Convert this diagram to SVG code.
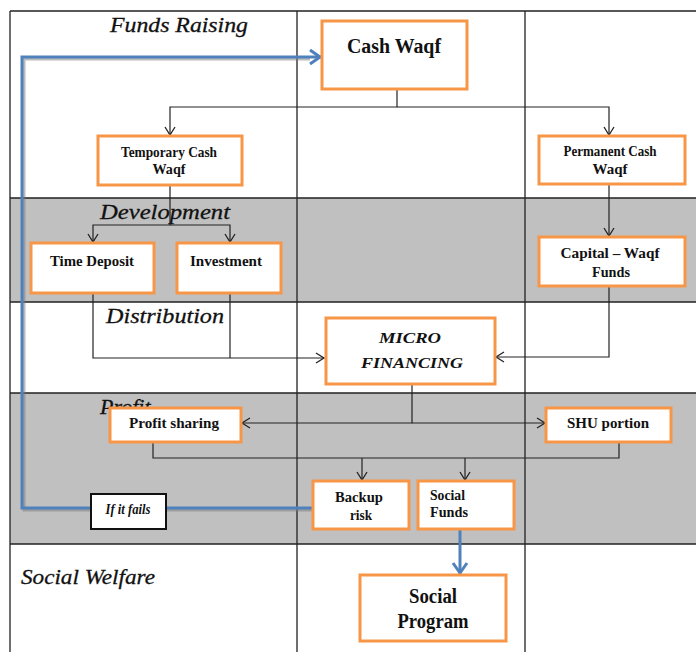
<svg xmlns="http://www.w3.org/2000/svg" width="696" height="652" viewBox="0 0 696 652">
<style>
.grid{stroke:#222;stroke-width:1.3;fill:none}
.band{fill:#c0c0c0}
.node{fill:#fff;stroke:#f79646;stroke-width:3}
text{font-family:'Liberation Serif','Times New Roman','DejaVu Serif',serif}
.sec{font-style:italic;font-size:22px;fill:#111;stroke:#111;stroke-width:0.3}
.t{font-weight:bold;font-size:14.5px;fill:#111;text-anchor:middle}
.big{font-size:20px}
.conn{fill:none;stroke:#222;stroke-width:1.2}
.blue{fill:none;stroke:#4f81bd;stroke-width:3}
.shadow{fill:none;stroke:#777;stroke-width:3;opacity:0.5}
</style>
<defs>
<marker id="ah" viewBox="-10 -7 12 14" refX="0" refY="0" markerWidth="12" markerHeight="14" markerUnits="userSpaceOnUse" orient="auto">
<path d="M-8,-5 L0,0 L-8,5" fill="none" stroke="#222" stroke-width="1.3"/>
</marker>
<marker id="bh" viewBox="-14 -9 16 18" refX="0" refY="0" markerWidth="16" markerHeight="18" markerUnits="userSpaceOnUse" orient="auto">
<path d="M-11,-7 L-1,0 L-11,7" fill="none" stroke="#4f81bd" stroke-width="3"/>
</marker>
</defs>
<rect width="696" height="652" fill="#fff"/>
<g id="grid">
<rect class="band" x="10" y="198" width="686" height="104"/>
<rect class="band" x="10" y="393" width="686" height="151"/>
<path class="grid" d="M10,11 H696 M10,198 H696 M10,302 H696 M10,393 H696 M10,544 H696 M10,11 V652 M297,11 V652 M525,11 V652"/>
</g>
<g id="sections">
<text class="sec" x="110" y="32" textLength="138" lengthAdjust="spacingAndGlyphs">Funds Raising</text>
<text class="sec" x="100" y="219" textLength="130" lengthAdjust="spacingAndGlyphs">Development</text>
<text class="sec" x="106" y="323" textLength="118" lengthAdjust="spacingAndGlyphs">Distribution</text>
<text class="sec" x="100" y="414">Profit</text>
<text class="sec" x="21" y="584" textLength="134" lengthAdjust="spacingAndGlyphs">Social Welfare</text>
</g>
<g id="connectors">
<path class="conn" d="M397,89 V107 H170 V135" marker-end="url(#ah)"/>
<path class="conn" d="M397,107 H609 V135" marker-end="url(#ah)"/>
<path class="conn" d="M170,185 V225 H93 V242" marker-end="url(#ah)"/>
<path class="conn" d="M170,225 H230 V242" marker-end="url(#ah)"/>
<path class="conn" d="M609,184 V236" marker-end="url(#ah)"/>
<path class="conn" d="M609,286 V357 H496" marker-end="url(#ah)"/>
<path class="conn" d="M93,293 V358 H324" marker-end="url(#ah)"/>
<path class="conn" d="M230,293 V358"/>
<path class="conn" d="M412,384 V423 H242" marker-end="url(#ah)"/>
<path class="conn" d="M412,423 H545" marker-end="url(#ah)"/>
<path class="conn" d="M153,442 V458 H619 V442"/>
<path class="conn" d="M362,458 V480" marker-end="url(#ah)"/>
<path class="conn" d="M465,458 V480" marker-end="url(#ah)"/>
<path class="shadow" d="M313,510 H24 V59 H310"/>
<path class="blue" d="M313,508 H22 V57 H321" marker-end="url(#bh)"/>
<path class="blue" d="M460,529 V574" marker-end="url(#bh)"/>
</g>
<g id="cash-waqf">
<rect class="node" x="322" y="21" width="145" height="68"/>
<text class="t big" x="394" y="53" textLength="94" lengthAdjust="spacingAndGlyphs">Cash Waqf</text>
</g>
<g id="temporary-cash-waqf">
<rect class="node" x="98" y="136" width="144" height="49"/>
<text class="t" x="169" y="157" textLength="96" lengthAdjust="spacingAndGlyphs">Temporary Cash</text>
<text class="t" x="169" y="174" textLength="33" lengthAdjust="spacingAndGlyphs">Waqf</text>
</g>
<g id="permanent-cash-waqf">
<rect class="node" x="539" y="136" width="146" height="48"/>
<text class="t" x="610" y="156" textLength="93" lengthAdjust="spacingAndGlyphs">Permanent Cash</text>
<text class="t" x="610" y="174" textLength="35" lengthAdjust="spacingAndGlyphs">Waqf</text>
</g>
<g id="time-deposit">
<rect class="node" x="31" y="243" width="123" height="50"/>
<text class="t" x="92" y="266" textLength="84" lengthAdjust="spacingAndGlyphs">Time Deposit</text>
</g>
<g id="investment">
<rect class="node" x="177" y="243" width="104" height="50"/>
<text class="t" x="226" y="266" textLength="72" lengthAdjust="spacingAndGlyphs">Investment</text>
</g>
<g id="capital-waqf-funds">
<rect class="node" x="539" y="237" width="146" height="49"/>
<text class="t" x="610" y="258" textLength="99" lengthAdjust="spacingAndGlyphs">Capital – Waqf</text>
<text class="t" x="611" y="277" textLength="38" lengthAdjust="spacingAndGlyphs">Funds</text>
</g>
<g id="micro-financing">
<rect class="node" x="326" y="318" width="169" height="66"/>
<text class="t" x="410" y="343" font-size="19" font-style="italic" textLength="62" lengthAdjust="spacingAndGlyphs">MICRO</text>
<text class="t" x="412" y="368" font-size="19" font-style="italic" textLength="102" lengthAdjust="spacingAndGlyphs">FINANCING</text>
</g>
<g id="profit-sharing">
<rect class="node" x="110" y="408" width="131" height="34"/>
<text class="t" x="174" y="428" textLength="90" lengthAdjust="spacingAndGlyphs">Profit sharing</text>
</g>
<g id="shu-portion">
<rect class="node" x="546" y="408" width="125" height="34"/>
<text class="t" x="608" y="428" textLength="82" lengthAdjust="spacingAndGlyphs">SHU portion</text>
</g>
<g id="backup-risk">
<rect class="node" x="313" y="481" width="96" height="48"/>
<text class="t" x="359" y="502" textLength="48" lengthAdjust="spacingAndGlyphs">Backup</text>
<text class="t" x="361" y="520" textLength="22" lengthAdjust="spacingAndGlyphs">risk</text>
</g>
<g id="social-funds">
<rect class="node" x="418" y="481" width="96" height="48"/>
<text class="t" x="430" y="500" font-size="14" font-weight="normal" style="text-anchor:start" textLength="35" lengthAdjust="spacingAndGlyphs">Social</text>
<text class="t" x="430" y="517" font-size="14" font-weight="normal" style="text-anchor:start" textLength="38" lengthAdjust="spacingAndGlyphs">Funds</text>
</g>
<g id="if-it-fails">
<rect x="91" y="494" width="75" height="35" fill="#fff" stroke="#111" stroke-width="2"/>
<text class="t" x="128" y="514" font-size="13" font-style="italic" textLength="45" lengthAdjust="spacingAndGlyphs">If it fails</text>
</g>
<g id="social-program">
<rect class="node" x="360" y="575" width="146" height="66"/>
<text class="t big" x="433" y="603" textLength="48" lengthAdjust="spacingAndGlyphs">Social</text>
<text class="t big" x="433" y="628" textLength="71" lengthAdjust="spacingAndGlyphs">Program</text>
</g>
</svg>
